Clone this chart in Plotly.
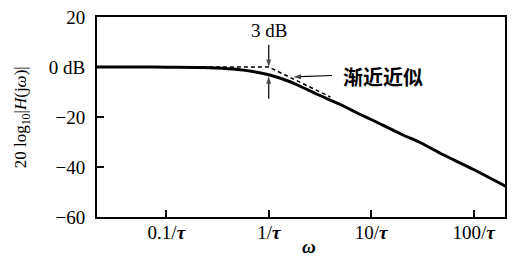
import plotly.graph_objects as go

# Data (omega in units of 1/tau)
omega = [0.021, 0.05, 0.1, 0.2, 0.3, 0.5, 0.7, 1.0, 1.5, 2.0, 3.0, 5.0, 7.0, 10.0, 20.0, 30.0, 50.0, 100.0, 205.0]
mag_db = [0.0, 0.0, -0.05, -0.2, -0.4, -1.0, -1.8, -3.1, -5.4, -7.6, -11.0, -15.0, -18.0, -21.0, -27.0, -30.2, -35.0, -41.0, -47.7]

asym_omega = [0.021, 1.0, 4.0]
asym_db = [0.0, 0.0, -12.0]

# annotation arrows: (tail, head) in (omega, dB)
arrow_top = ([1.0, 1.0], [8.9, 0.0])
arrow_bottom = ([1.0, 1.0], [-12.7, -3.7])
arrow_label = ([4.15, 1.74], [-3.4, -4.0])

x_tickvals = [0.1, 1, 10, 100]
x_ticktext = ["0.1/<b><i>τ</i></b>", "1/<b><i>τ</i></b>", "10/<b><i>τ</i></b>", "100/<b><i>τ</i></b>"]
y_tickvals = [20, 0, -20, -40, -60]
y_ticktext = ["20", "0 dB", "−20", "−40", "−60"]

serif = "Liberation Serif, Times New Roman, serif"

fig = go.Figure()
fig.add_trace(go.Scatter(x=asym_omega, y=asym_db, mode="lines",
                         line=dict(color="black", width=1.5, dash="4px,3px"),
                         showlegend=False, hoverinfo="skip"))
fig.add_trace(go.Scatter(x=omega, y=mag_db, mode="lines", line_shape="spline",
                         line=dict(color="black", width=3),
                         showlegend=False, hoverinfo="skip"))
for ax_, ay_ in (arrow_top, arrow_bottom, arrow_label):
    fig.add_trace(go.Scatter(x=ax_, y=ay_, mode="lines+markers",
                             line=dict(color="black", width=1.2),
                             marker=dict(symbol="arrow", angleref="previous", size=[0, 8],
                                         color="black", line=dict(width=0)),
                             showlegend=False, hoverinfo="skip"))

fig.update_layout(
    width=514, height=264,
    margin=dict(l=97, r=7, t=14, b=47),
    paper_bgcolor="white", plot_bgcolor="white",
    font=dict(family=serif, size=19, color="black"),
    xaxis=dict(type="log", range=[-1.677, 2.307], tickvals=x_tickvals, ticktext=x_ticktext,
               ticks="inside", ticklen=7, tickwidth=1.5, tickcolor="black",
               showline=True, linecolor="black", linewidth=2, mirror=True,
               showgrid=False, zeroline=False, ticklabelstandoff=-3),
    yaxis=dict(range=[-60, 20], tickvals=y_tickvals, ticktext=y_ticktext,
               ticks="inside", ticklen=7, tickwidth=1.5, tickcolor="black",
               showline=True, linecolor="black", linewidth=2, mirror=True,
               showgrid=False, zeroline=False, ticklabelstandoff=6),
)

fig.add_annotation(x=0, y=14.8, xref="x", yref="y", text="3 dB", showarrow=False,
                   font=dict(family=serif, size=19))
fig.add_annotation(x=0.706, y=-3.7, xref="x", yref="y", text="<b>渐近近似</b>", showarrow=False,
                   xanchor="left", font=dict(family="Noto Sans CJK SC", size=20))

# Axis titles
fig.add_annotation(x=-0.183, y=0.5, xref="paper", yref="paper", textangle=-90,
                   text="20 log<sub>10</sub>|<i>H</i>(j<i>ω</i>)|", showarrow=False,
                   xanchor="center", yanchor="middle",
                   font=dict(family=serif, size=17))
fig.add_annotation(x=0.52, y=-0.148, xref="paper", yref="paper",
                   text="<b><i>ω</i></b>", showarrow=False,
                   xanchor="center", yanchor="middle",
                   font=dict(family=serif, size=19))

fig.write_html("out.html")
